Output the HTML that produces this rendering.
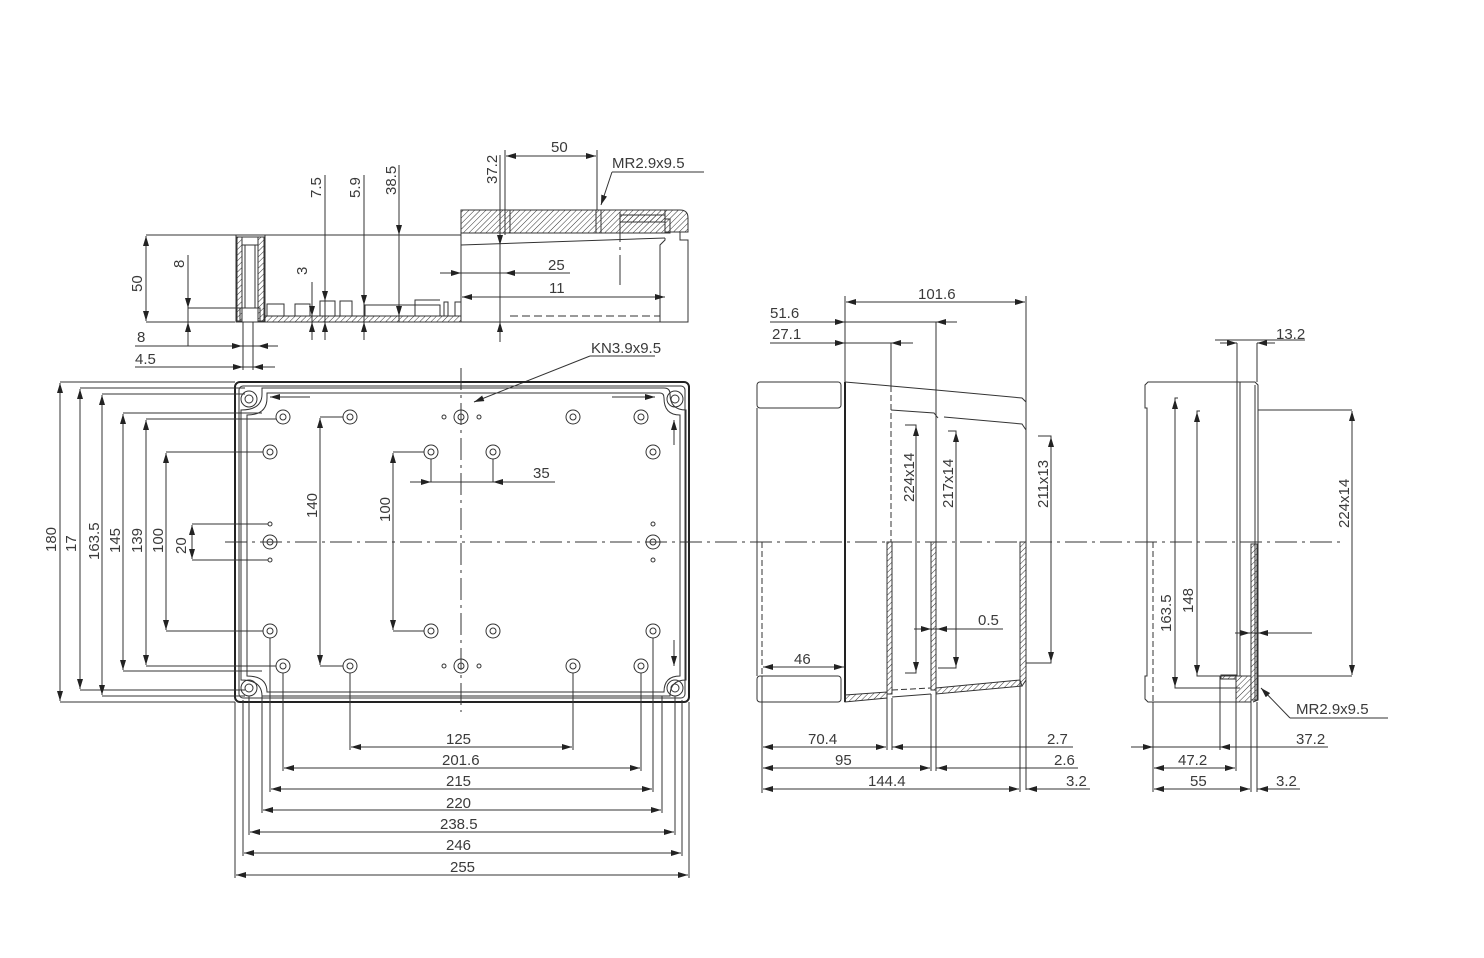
<!DOCTYPE html>
<html><head><meta charset="utf-8"><style>
html,body{margin:0;padding:0;background:#fff}
svg{display:block}
text{font-family:"Liberation Sans",sans-serif;font-size:15px;fill:#3a3a3a}
.l{stroke:#333;stroke-width:1;fill:none}
.t{stroke:#222;stroke-width:2;fill:none}
.d{stroke:#333;stroke-width:1;fill:none;marker-start:url(#a);marker-end:url(#a)}
.e{stroke:#333;stroke-width:1;fill:none;marker-end:url(#a)}
.c{stroke:#333;stroke-width:1;fill:none;stroke-dasharray:22 5 3 5}
.h{fill:url(#hat);stroke:#333;stroke-width:1}
</style></head><body>
<svg width="1484" height="958" viewBox="0 0 1484 958" xmlns="http://www.w3.org/2000/svg">
<defs>
<marker id="a" viewBox="0 0 10 6" refX="10" refY="3" markerWidth="10" markerHeight="6" orient="auto-start-reverse" markerUnits="userSpaceOnUse"><path d="M0,0 L10,3 L0,6 z" fill="#222"/></marker>
<pattern id="hat" width="4" height="4" patternUnits="userSpaceOnUse" patternTransform="rotate(45)"><line x1="0" y1="0" x2="0" y2="4" stroke="#333" stroke-width="1"/></pattern>
</defs>

<!-- ===== TOP SECTION VIEW ===== -->
<line class="l" x1="146" y1="235" x2="461" y2="235"/>
<line class="l" x1="146" y1="322" x2="235" y2="322"/>
<line class="d" x1="146" y1="236" x2="146" y2="321"/>
<text transform="translate(142,292) rotate(-90)">50</text>
<rect class="l" x="236" y="235" width="29" height="87"/>
<rect class="h" x="237" y="237" width="5" height="84"/>
<rect class="h" x="258" y="237" width="6" height="84"/>
<rect class="l" x="242" y="237" width="16" height="8"/>
<line class="l" x1="245" y1="245" x2="245" y2="308"/>
<line class="l" x1="255" y1="245" x2="255" y2="308"/>
<rect class="h" x="265" y="316" width="196" height="6"/>
<rect class="l" x="240" y="308" width="20" height="14"/>
<line class="l" x1="243" y1="322" x2="243" y2="370"/>
<line class="l" x1="253" y1="322" x2="253" y2="370"/>
<polyline class="l" points="267,316 267,304 284,304 284,316"/>
<polyline class="l" points="295,316 295,304 310,304 310,316"/>
<polyline class="l" points="320,316 320,301 335,301 335,316"/>
<polyline class="l" points="340,316 340,301 352,301 352,316"/>
<polyline class="l" points="365,316 365,305 440,305 440,316"/>
<polyline class="l" points="415,316 415,300 440,300"/>
<polyline class="l" points="444,316 444,302 448,302 448,316"/>
<polyline class="l" points="455,316 455,302 461,302"/>
<!-- 8 dims -->
<line class="l" x1="188" y1="255" x2="188" y2="346"/>
<line class="l" x1="188" y1="308" x2="240" y2="308"/>
<line class="e" x1="188" y1="290" x2="188" y2="308"/>
<line class="e" x1="188" y1="340" x2="188" y2="322"/>
<text transform="translate(184,268) rotate(-90)">8</text>
<line class="l" x1="135" y1="346" x2="278" y2="346"/>
<line class="e" x1="228" y1="346" x2="242" y2="346"/>
<line class="e" x1="272" y1="346" x2="258" y2="346"/>
<text x="137" y="342">8</text>
<line class="l" x1="135" y1="367" x2="275" y2="367"/>
<line class="e" x1="230" y1="367" x2="243" y2="367"/>
<line class="e" x1="268" y1="367" x2="253" y2="367"/>
<text x="135" y="364">4.5</text>
<!-- 3, 7.5, 5.9, 38.5 -->
<line class="l" x1="312" y1="282" x2="312" y2="340"/>
<line class="e" x1="312" y1="300" x2="312" y2="316"/>
<line class="e" x1="312" y1="340" x2="312" y2="322"/>
<text transform="translate(307,275) rotate(-90)">3</text>
<line class="l" x1="325" y1="175" x2="325" y2="340"/>
<line class="e" x1="325" y1="280" x2="325" y2="301"/>
<line class="e" x1="325" y1="338" x2="325" y2="322"/>
<text transform="translate(321,198) rotate(-90)">7.5</text>
<line class="l" x1="364" y1="175" x2="364" y2="340"/>
<line class="e" x1="364" y1="285" x2="364" y2="305"/>
<line class="e" x1="364" y1="338" x2="364" y2="322"/>
<text transform="translate(360,198) rotate(-90)">5.9</text>
<line class="l" x1="399" y1="165" x2="399" y2="322"/>
<line class="e" x1="399" y1="215" x2="399" y2="235"/>
<line class="e" x1="399" y1="300" x2="399" y2="316"/>
<text transform="translate(396,195) rotate(-90)">38.5</text>
<!-- lid section -->
<rect class="h" x="461" y="210" width="204" height="23"/>
<path class="h" d="M620,215 L665,215 L665,210 L680,210 Q688,210 688,218 L688,232 L665,232 L665,222 L620,222 z"/>
<rect class="l" x="505" y="210" width="5" height="23" fill="#fff"/>
<rect class="l" x="596" y="210" width="5" height="23" fill="#fff"/>
<rect class="l" x="665" y="219" width="5" height="14" fill="#fff"/>
<line class="l" x1="461" y1="210" x2="461" y2="322"/>
<line class="l" x1="461" y1="245" x2="665" y2="238"/>
<polyline class="l" points="665,238 665,240 660,245 660,322"/>
<polyline class="l" points="680,232 680,240 688,240 688,322 660,322"/>
<line class="l" x1="461" y1="322" x2="660" y2="322"/>
<line class="l" x1="510" y1="316" x2="660" y2="316" stroke-dasharray="8 4"/>
<line class="l" x1="620" y1="212" x2="620" y2="285" stroke-dasharray="30 5 3 5"/>
<line class="l" x1="500" y1="155" x2="500" y2="340"/>
<line class="e" x1="500" y1="225" x2="500" y2="245"/>
<line class="e" x1="500" y1="342" x2="500" y2="322"/>
<text transform="translate(497,184) rotate(-90)">37.2</text>
<line class="l" x1="505" y1="150" x2="505" y2="235"/>
<line class="l" x1="597" y1="150" x2="597" y2="210"/>
<line class="d" x1="506" y1="156" x2="596" y2="156"/>
<text x="551" y="152">50</text>
<polyline class="l" points="612,172 704,172"/>
<line class="e" x1="612" y1="172" x2="601" y2="205"/>
<text x="612" y="168">MR2.9x9.5</text>
<line class="l" x1="440" y1="273" x2="570" y2="273"/>
<line class="e" x1="445" y1="273" x2="461" y2="273"/>
<line class="e" x1="525" y1="273" x2="505" y2="273"/>
<text x="548" y="270">25</text>
<line class="d" x1="462" y1="297" x2="665" y2="297"/>
<text x="549" y="293">11</text>
<!-- KN leader -->
<polyline class="l" points="590,356 655,356"/>
<line class="e" x1="590" y1="356" x2="474" y2="402"/>
<text x="591" y="353">KN3.9x9.5</text>

<!-- ===== FRONT VIEW ===== -->
<rect x="235" y="382" width="454" height="320" rx="5" class="t"/>
<rect x="239" y="386" width="446" height="312" rx="4" class="l"/>
<path class="l" d="M262,388 L664,388 Q670,388 670,394 Q670,410 686,410 L686,680 Q670,680 670,696 L262,696 Q262,680 241,680 L241,410 Q262,410 262,394 z"/>
<path class="l" d="M267,393 L660,393 Q664,393 664,398 Q664,415 680,415 L680,676 Q664,676 664,692 L267,692 Q267,676 247,676 L247,415 Q267,415 267,398 z"/>
<line class="e" x1="310" y1="397" x2="270" y2="397"/>
<line class="e" x1="612" y1="397" x2="655" y2="397"/>
<line class="e" x1="674" y1="445" x2="674" y2="420"/>
<line class="e" x1="674" y1="640" x2="674" y2="666"/>
<g class="l">
<circle cx="249" cy="399" r="8"/><circle cx="249" cy="399" r="4"/>
<circle cx="675" cy="399" r="8"/><circle cx="675" cy="399" r="4"/>
<circle cx="249" cy="688" r="8"/><circle cx="249" cy="688" r="4"/>
<circle cx="675" cy="688" r="8"/><circle cx="675" cy="688" r="4"/>
</g>
<g class="l" stroke-width="1.3">
<circle cx="283" cy="417" r="7"/><circle cx="283" cy="417" r="3"/>
<circle cx="350" cy="417" r="7"/><circle cx="350" cy="417" r="3"/>
<circle cx="461" cy="417" r="7"/><circle cx="461" cy="417" r="3"/>
<circle cx="573" cy="417" r="7"/><circle cx="573" cy="417" r="3"/>
<circle cx="641" cy="417" r="7"/><circle cx="641" cy="417" r="3"/>
<circle cx="270" cy="452" r="7"/><circle cx="270" cy="452" r="3"/>
<circle cx="431" cy="452" r="7"/><circle cx="431" cy="452" r="3"/>
<circle cx="493" cy="452" r="7"/><circle cx="493" cy="452" r="3"/>
<circle cx="653" cy="452" r="7"/><circle cx="653" cy="452" r="3"/>
<circle cx="270" cy="542" r="7"/><circle cx="270" cy="542" r="3"/>
<circle cx="653" cy="542" r="7"/><circle cx="653" cy="542" r="3"/>
<circle cx="270" cy="631" r="7"/><circle cx="270" cy="631" r="3"/>
<circle cx="431" cy="631" r="7"/><circle cx="431" cy="631" r="3"/>
<circle cx="493" cy="631" r="7"/><circle cx="493" cy="631" r="3"/>
<circle cx="653" cy="631" r="7"/><circle cx="653" cy="631" r="3"/>
<circle cx="283" cy="666" r="7"/><circle cx="283" cy="666" r="3"/>
<circle cx="350" cy="666" r="7"/><circle cx="350" cy="666" r="3"/>
<circle cx="461" cy="666" r="7"/><circle cx="461" cy="666" r="3"/>
<circle cx="573" cy="666" r="7"/><circle cx="573" cy="666" r="3"/>
<circle cx="641" cy="666" r="7"/><circle cx="641" cy="666" r="3"/>
</g>
<g class="l">
<circle cx="270" cy="524" r="2"/><circle cx="270" cy="560" r="2"/>
<circle cx="653" cy="524" r="2"/><circle cx="653" cy="560" r="2"/>
<circle cx="444" cy="417" r="2"/><circle cx="479" cy="417" r="2"/>
<circle cx="444" cy="666" r="2"/><circle cx="479" cy="666" r="2"/>
</g>
<!-- centerlines -->
<line class="c" x1="225" y1="542" x2="1340" y2="542"/>
<line class="c" x1="461" y1="368" x2="461" y2="712"/>
<!-- left dims -->
<g class="l">
<line x1="60" y1="382" x2="235" y2="382"/><line x1="60" y1="702" x2="235" y2="702"/>
<line x1="80" y1="388" x2="245" y2="388"/><line x1="80" y1="690" x2="245" y2="690"/>
<line x1="102" y1="394" x2="245" y2="394"/><line x1="102" y1="696" x2="245" y2="696"/>
<line x1="123" y1="413" x2="262" y2="413"/><line x1="123" y1="671" x2="262" y2="671"/>
<line x1="146" y1="419" x2="276" y2="419"/><line x1="146" y1="666" x2="276" y2="666"/>
<line x1="166" y1="452" x2="263" y2="452"/><line x1="166" y1="631" x2="263" y2="631"/>
<line x1="192" y1="524" x2="268" y2="524"/><line x1="192" y1="560" x2="268" y2="560"/>
<line x1="320" y1="417" x2="343" y2="417"/><line x1="320" y1="666" x2="343" y2="666"/>
<line x1="393" y1="452" x2="424" y2="452"/><line x1="393" y1="631" x2="424" y2="631"/>
<line x1="431" y1="459" x2="431" y2="482"/><line x1="493" y1="459" x2="493" y2="482"/>
</g>
<line class="d" x1="60" y1="383" x2="60" y2="701"/>
<line class="d" x1="80" y1="389" x2="80" y2="689"/>
<line class="d" x1="102" y1="395" x2="102" y2="695"/>
<line class="d" x1="123" y1="414" x2="123" y2="670"/>
<line class="d" x1="146" y1="420" x2="146" y2="665"/>
<line class="d" x1="166" y1="453" x2="166" y2="630"/>
<line class="d" x1="192" y1="525" x2="192" y2="559"/>
<line class="d" x1="320" y1="418" x2="320" y2="665"/>
<line class="d" x1="393" y1="453" x2="393" y2="630"/>
<text transform="translate(56,552) rotate(-90)">180</text>
<text transform="translate(76,552) rotate(-90)">17</text>
<text transform="translate(99,560) rotate(-90)">163.5</text>
<text transform="translate(120,553) rotate(-90)">145</text>
<text transform="translate(142,553) rotate(-90)">139</text>
<text transform="translate(163,553) rotate(-90)">100</text>
<text transform="translate(186,554) rotate(-90)">20</text>
<text transform="translate(317,518) rotate(-90)">140</text>
<text transform="translate(390,522) rotate(-90)">100</text>
<line class="l" x1="410" y1="482" x2="555" y2="482"/>
<line class="e" x1="415" y1="482" x2="431" y2="482"/>
<line class="e" x1="515" y1="482" x2="493" y2="482"/>
<text x="533" y="478">35</text>
<!-- bottom dims -->
<g class="l">
<line x1="350" y1="673" x2="350" y2="750"/><line x1="573" y1="673" x2="573" y2="750"/>
<line x1="283" y1="673" x2="283" y2="771"/><line x1="641" y1="673" x2="641" y2="771"/>
<line x1="270" y1="638" x2="270" y2="792"/><line x1="653" y1="638" x2="653" y2="792"/>
<line x1="262" y1="696" x2="262" y2="813"/><line x1="662" y1="696" x2="662" y2="813"/>
<line x1="249" y1="696" x2="249" y2="835"/><line x1="675" y1="696" x2="675" y2="835"/>
<line x1="243" y1="700" x2="243" y2="856"/><line x1="682" y1="700" x2="682" y2="856"/>
<line x1="235" y1="702" x2="235" y2="878"/><line x1="689" y1="702" x2="689" y2="878"/>
</g>
<line class="d" x1="351" y1="747" x2="572" y2="747"/>
<line class="d" x1="284" y1="768" x2="640" y2="768"/>
<line class="d" x1="271" y1="789" x2="652" y2="789"/>
<line class="d" x1="263" y1="810" x2="661" y2="810"/>
<line class="d" x1="250" y1="832" x2="674" y2="832"/>
<line class="d" x1="244" y1="853" x2="681" y2="853"/>
<line class="d" x1="236" y1="875" x2="688" y2="875"/>
<text x="446" y="744">125</text>
<text x="442" y="765">201.6</text>
<text x="446" y="786">215</text>
<text x="446" y="808">220</text>
<text x="440" y="829">238.5</text>
<text x="446" y="850">246</text>
<text x="450" y="872">255</text>

<!-- ===== SIDE VIEW (middle) ===== -->
<rect class="l" x="757" y="382" width="84" height="26" rx="3"/>
<rect class="l" x="757" y="676" width="84" height="26" rx="3"/>
<line class="l" x1="757" y1="408" x2="757" y2="676"/>
<line class="l" x1="762" y1="542" x2="762" y2="676" stroke-dasharray="6 3"/>
<line class="t" x1="845" y1="382" x2="845" y2="702"/>
<polyline class="l" points="845,382 891,386 936,390 1022,398 1026,402 1026,542"/>
<polyline class="l" points="891,410 934,413 938,418"/>
<polyline class="l" points="944,417 1022,424 1026,430"/>
<line class="l" x1="891" y1="386" x2="891" y2="542" stroke-dasharray="6 3"/>
<line class="l" x1="936" y1="390" x2="936" y2="542"/>
<path class="h" d="M887,542 L892,542 L892,694 L887,694 z"/>
<path class="h" d="M931,542 L936,542 L936,690 L931,690 z"/>
<path class="h" d="M1020,542 L1026,542 L1026,680 L1022,686 L1020,686 z"/>
<path class="h" d="M845,695 L887,692 L887,698 L845,702 z"/>
<path class="h" d="M936,688 L1020,680 L1022,686 L936,694 z"/>
<line class="l" x1="892" y1="690" x2="931" y2="688" stroke-dasharray="6 3"/>
<line class="l" x1="892" y1="697" x2="931" y2="694"/>
<!-- top dims -->
<line class="l" x1="845" y1="296" x2="845" y2="382"/>
<line class="l" x1="1026" y1="296" x2="1026" y2="790"/>
<line class="d" x1="846" y1="302" x2="1025" y2="302"/>
<text x="918" y="299">101.6</text>
<line class="l" x1="770" y1="322" x2="957" y2="322"/>
<line class="e" x1="830" y1="322" x2="845" y2="322"/>
<line class="e" x1="955" y1="322" x2="936" y2="322"/>
<text x="770" y="318">51.6</text>
<line class="l" x1="770" y1="343" x2="913" y2="343"/>
<line class="e" x1="830" y1="343" x2="845" y2="343"/>
<line class="e" x1="910" y1="343" x2="891" y2="343"/>
<text x="772" y="339">27.1</text>
<line class="l" x1="891" y1="343" x2="891" y2="386"/>
<line class="l" x1="936" y1="322" x2="936" y2="390"/>
<!-- vertical inner dims -->
<polyline class="l" points="905,425 916,425 916,673 905,673"/>
<line class="d" x1="916" y1="426" x2="916" y2="672"/>
<text transform="translate(914,502) rotate(-90)">224x14</text>
<polyline class="l" points="948,431 956,431 956,668 938,668"/>
<line class="d" x1="956" y1="432" x2="956" y2="667"/>
<text transform="translate(953,508) rotate(-90)">217x14</text>
<polyline class="l" points="1038,436 1051,436 1051,663 1026,663"/>
<line class="d" x1="1051" y1="437" x2="1051" y2="662"/>
<text transform="translate(1048,508) rotate(-90)">211x13</text>
<line class="l" x1="914" y1="629" x2="1003" y2="629"/>
<line class="e" x1="919" y1="629" x2="931" y2="629"/>
<line class="e" x1="950" y1="629" x2="937" y2="629"/>
<text x="978" y="625">0.5</text>
<line class="d" x1="763" y1="667" x2="844" y2="667"/>
<text x="794" y="664">46</text>
<!-- bottom dims -->
<g class="l">
<line x1="762" y1="676" x2="762" y2="793"/>
<line x1="887" y1="698" x2="887" y2="750"/>
<line x1="892" y1="698" x2="892" y2="750"/>
<line x1="931" y1="694" x2="931" y2="771"/>
<line x1="936" y1="694" x2="936" y2="771"/>
<line x1="1020" y1="686" x2="1020" y2="792"/>
</g>
<line class="d" x1="763" y1="747" x2="886" y2="747"/>
<line class="l" x1="892" y1="747" x2="1073" y2="747"/>
<line class="e" x1="910" y1="747" x2="893" y2="747"/>
<line class="d" x1="763" y1="768" x2="930" y2="768"/>
<line class="l" x1="936" y1="768" x2="1078" y2="768"/>
<line class="e" x1="955" y1="768" x2="937" y2="768"/>
<line class="d" x1="763" y1="789" x2="1019" y2="789"/>
<line class="l" x1="1026" y1="789" x2="1090" y2="789"/>
<line class="e" x1="1045" y1="789" x2="1027" y2="789"/>
<text x="808" y="744">70.4</text>
<text x="835" y="765">95</text>
<text x="868" y="786">144.4</text>
<text x="1047" y="744">2.7</text>
<text x="1054" y="765">2.6</text>
<text x="1066" y="786">3.2</text>

<!-- ===== RIGHT VIEW ===== -->
<polyline class="l" points="1238,382 1148,382 1145,385 1145,408 1147,408 1147,676 1145,676 1145,699 1148,702 1250,702"/>
<line class="l" x1="1153" y1="542" x2="1153" y2="702" stroke-dasharray="6 3"/>
<line class="l" x1="1237" y1="382" x2="1237" y2="676"/>
<line class="l" x1="1240" y1="382" x2="1240" y2="676"/>
<polyline class="l" points="1238,382 1255,382 1258,385 1258,700 1253,702"/>
<line class="l" x1="1255" y1="385" x2="1255" y2="700"/>
<path class="h" d="M1251,544 L1257,544 L1257,700 L1251,700 z"/>
<path class="h" d="M1236,676 L1251,676 L1251,702 L1236,702 z"/>
<rect class="h" x="1221" y="675" width="15" height="4"/>
<line class="l" x1="1215" y1="340" x2="1305" y2="340"/>
<line class="e" x1="1220" y1="343" x2="1237" y2="343"/>
<line class="e" x1="1275" y1="343" x2="1257" y2="343"/>
<line class="l" x1="1237" y1="343" x2="1237" y2="382"/>
<line class="l" x1="1257" y1="343" x2="1257" y2="382"/>
<text x="1276" y="339">13.2</text>
<polyline class="l" points="1258,410 1352,410"/>
<polyline class="l" points="1258,676 1352,676"/>
<line class="d" x1="1352" y1="411" x2="1352" y2="675"/>
<text transform="translate(1349,528) rotate(-90)">224x14</text>
<polyline class="l" points="1178,398 1175,398 1175,688 1240,688"/>
<line class="d" x1="1175" y1="399" x2="1175" y2="687"/>
<text transform="translate(1171,632) rotate(-90)">163.5</text>
<polyline class="l" points="1200,411 1197,411 1197,676 1236,676"/>
<line class="d" x1="1197" y1="412" x2="1197" y2="675"/>
<text transform="translate(1193,613) rotate(-90)">148</text>
<line class="l" x1="1235" y1="633" x2="1312" y2="633"/>
<line class="e" x1="1238" y1="633" x2="1250" y2="633"/>
<line class="e" x1="1275" y1="633" x2="1258" y2="633"/>
<polyline class="l" points="1290,718 1388,718"/>
<line class="e" x1="1290" y1="718" x2="1261" y2="688"/>
<text x="1296" y="714">MR2.9x9.5</text>
<g class="l">
<line x1="1220" y1="676" x2="1220" y2="750"/>
<line x1="1236" y1="702" x2="1236" y2="771"/>
<line x1="1251" y1="702" x2="1251" y2="792"/>
<line x1="1257" y1="702" x2="1257" y2="792"/>
<line x1="1153" y1="702" x2="1153" y2="792"/>
</g>
<line class="l" x1="1131" y1="747" x2="1328" y2="747"/>
<line class="e" x1="1138" y1="747" x2="1153" y2="747"/>
<line class="e" x1="1236" y1="747" x2="1220" y2="747"/>
<line class="d" x1="1154" y1="768" x2="1235" y2="768"/>
<line class="d" x1="1154" y1="789" x2="1250" y2="789"/>
<line class="l" x1="1257" y1="789" x2="1300" y2="789"/>
<line class="e" x1="1275" y1="789" x2="1258" y2="789"/>
<text x="1296" y="744">37.2</text>
<text x="1178" y="765">47.2</text>
<text x="1190" y="786">55</text>
<text x="1276" y="786">3.2</text>
</svg>
</body></html>
